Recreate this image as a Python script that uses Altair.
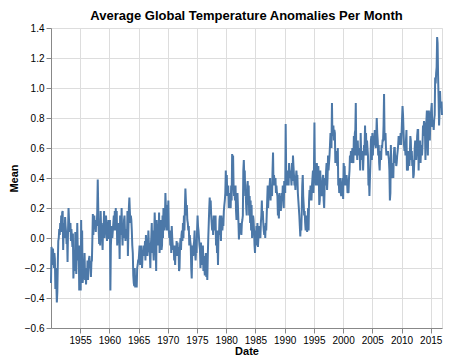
import altair as alt
import pandas as pd

title_text = "Average Global Temperature Anomalies Per Month"
start_year = 1950
end_year = 2016

temps_1950s = [
    -0.30, -0.06, -0.08, -0.18, -0.07, -0.12, -0.20, -0.10, -0.14, -0.34, -0.20, -0.30,
    -0.43, -0.36, -0.18, -0.02, 0.00, 0.06, 0.02, 0.10, 0.05, 0.15, 0.04, 0.17,
    0.18, -0.08, 0.05, 0.10, 0.00, 0.14, 0.08, 0.04, -0.04, 0.02, -0.16, 0.05,
    0.20, 0.12, 0.08, 0.04, 0.10, -0.02, 0.06, 0.00, -0.06, 0.03, -0.27, -0.18,
    -0.10, -0.22, 0.04, -0.14, -0.24, -0.10, 0.10, -0.08, -0.15, -0.05, -0.35, -0.20,
    -0.05, -0.35, 0.12, -0.20, 0.05, -0.30, -0.26, -0.18, -0.22, -0.10, -0.28, -0.22,
    -0.31, -0.20, -0.28, -0.15, -0.28, -0.20, -0.14, -0.12, -0.20, -0.18, -0.26, -0.16,
    -0.15, 0.00, 0.16, 0.02, 0.10, 0.15, 0.06, 0.10, 0.04, 0.12, 0.08, 0.18,
    0.39, 0.20, 0.05, -0.04, 0.08, -0.05, 0.18, 0.06, 0.10, 0.00, -0.08, 0.08,
    0.05, 0.18, 0.00, 0.06, 0.04, 0.15, 0.08, -0.02, 0.02, 0.05, 0.12, 0.00,
]
temps_1960s = [
    0.00, 0.12, -0.35, -0.05, 0.02, 0.08, 0.00, 0.05, 0.10, 0.15, 0.05, 0.18,
    0.05, 0.20, 0.05, 0.18, -0.05, 0.05, 0.10, 0.00, 0.02, -0.14, 0.15, 0.05,
    0.02, 0.20, 0.05, -0.05, 0.10, 0.00, 0.12, 0.15, 0.04, -0.02, 0.06, 0.00,
    0.00, 0.18, -0.12, 0.05, 0.20, 0.27, 0.18, 0.10, 0.15, 0.12, 0.05, -0.05,
    -0.10, -0.25, -0.30, -0.32, -0.20, -0.33, -0.25, -0.30, -0.33, -0.20, -0.18, -0.15,
    -0.15, -0.10, -0.05, -0.18, -0.08, -0.12, -0.05, -0.20, -0.12, -0.08, -0.10, -0.05,
    -0.12, -0.02, -0.15, 0.02, -0.05, -0.08, -0.12, -0.05, 0.05, -0.03, -0.08, -0.10,
    -0.20, -0.05, 0.00, 0.10, -0.10, 0.05, -0.08, -0.15, 0.02, 0.17, 0.05, -0.05,
    -0.22, 0.12, 0.05, -0.05, 0.05, -0.02, 0.17, -0.10, 0.00, 0.12, 0.05, -0.08,
    -0.05, 0.15, 0.00, 0.20, 0.10, 0.05, 0.12, 0.30, 0.20, 0.10, 0.05, 0.22,
]
temps_1970s = [
    0.15, 0.25, 0.05, 0.00, 0.05, -0.05, 0.02, -0.10, 0.08, 0.00, -0.05, -0.08,
    -0.05, -0.15, -0.08, -0.18, -0.05, -0.10, -0.02, -0.12, -0.03, -0.10, -0.06, -0.22,
    -0.20, -0.05, 0.00, -0.08, 0.02, 0.05, -0.02, 0.10, 0.00, 0.15, 0.05, 0.20,
    0.33, 0.25, 0.15, 0.22, 0.12, 0.10, 0.05, 0.08, -0.05, 0.02, -0.02, -0.05,
    -0.20, -0.27, -0.10, -0.05, -0.12, -0.05, -0.02, 0.05, -0.10, -0.15, -0.08, -0.10,
    0.05, 0.15, 0.08, 0.05, 0.00, -0.05, -0.08, -0.20, -0.03, -0.10, -0.18, -0.10,
    -0.05, -0.22, -0.12, -0.20, -0.25, -0.15, -0.10, -0.26, -0.18, -0.28, -0.12, 0.00,
    0.10, 0.20, 0.27, 0.20, 0.25, 0.15, 0.10, 0.05, 0.12, 0.02, 0.15, 0.10,
    0.05, 0.12, 0.15, -0.05, 0.05, -0.10, 0.00, -0.18, 0.05, 0.02, 0.12, 0.15,
    0.05, -0.02, 0.15, 0.10, 0.05, 0.10, 0.08, 0.18, 0.22, 0.25, 0.30, 0.45,
]
temps_1980s = [
    0.30, 0.42, 0.28, 0.32, 0.35, 0.20, 0.25, 0.30, 0.22, 0.20, 0.35, 0.25,
    0.56, 0.45, 0.55, 0.35, 0.28, 0.30, 0.25, 0.35, 0.18, 0.12, 0.20, 0.30,
    0.20, 0.10, -0.01, 0.08, 0.05, 0.10, 0.05, 0.02, 0.10, 0.12, 0.15, 0.45,
    0.52, 0.40, 0.45, 0.28, 0.30, 0.20, 0.15, 0.35, 0.38, 0.22, 0.35, 0.15,
    0.28, 0.10, 0.25, 0.05, 0.22, 0.00, 0.10, 0.15, 0.12, 0.05, -0.05, -0.10,
    0.05, -0.05, 0.08, 0.02, 0.10, -0.06, 0.00, 0.08, 0.05, 0.02, 0.00, 0.10,
    0.15, 0.25, 0.12, 0.18, 0.10, 0.05, 0.02, 0.08, 0.00, 0.10, 0.05, 0.15,
    0.25, 0.35, 0.20, 0.30, 0.28, 0.35, 0.40, 0.25, 0.35, 0.30, 0.28, 0.45,
    0.57, 0.35, 0.42, 0.38, 0.35, 0.40, 0.30, 0.35, 0.30, 0.28, 0.15, 0.20,
    0.13, 0.30, 0.25, 0.28, 0.18, 0.22, 0.30, 0.25, 0.35, 0.30, 0.20, 0.38,
]
temps_1990s = [
    0.35, 0.30, 0.76, 0.45, 0.35, 0.40, 0.45, 0.38, 0.35, 0.50, 0.45, 0.40,
    0.45, 0.40, 0.35, 0.50, 0.38, 0.55, 0.48, 0.42, 0.35, 0.38, 0.32, 0.40,
    0.45, 0.40, 0.42, 0.30, 0.25, 0.20, 0.15, 0.08, 0.01, 0.10, 0.05, 0.18,
    0.35, 0.42, 0.28, 0.22, 0.15, 0.18, 0.10, 0.05, 0.12, 0.15, 0.04, 0.10,
    0.20, 0.05, 0.25, 0.32, 0.25, 0.35, 0.28, 0.25, 0.35, 0.40, 0.45, 0.30,
    0.45, 0.77, 0.45, 0.40, 0.35, 0.45, 0.50, 0.42, 0.35, 0.48, 0.40, 0.22,
    0.25, 0.45, 0.32, 0.30, 0.28, 0.35, 0.40, 0.42, 0.25, 0.20, 0.35, 0.40,
    0.35, 0.45, 0.50, 0.32, 0.40, 0.55, 0.45, 0.50, 0.55, 0.62, 0.70, 0.68,
    0.60, 0.90, 0.68, 0.72, 0.75, 0.65, 0.72, 0.70, 0.50, 0.55, 0.50, 0.58,
    0.48, 0.60, 0.35, 0.38, 0.30, 0.35, 0.40, 0.30, 0.28, 0.35, 0.36, 0.40,
]
temps_2000s = [
    0.26, 0.50, 0.45, 0.48, 0.35, 0.40, 0.35, 0.42, 0.38, 0.30, 0.32, 0.30,
    0.40, 0.45, 0.55, 0.50, 0.58, 0.50, 0.55, 0.60, 0.52, 0.50, 0.68, 0.55,
    0.70, 0.72, 0.90, 0.55, 0.60, 0.52, 0.65, 0.55, 0.60, 0.55, 0.58, 0.45,
    0.70, 0.55, 0.55, 0.52, 0.58, 0.45, 0.55, 0.62, 0.60, 0.75, 0.55, 0.70,
    0.55, 0.65, 0.60, 0.55, 0.35, 0.40, 0.28, 0.40, 0.50, 0.65, 0.68, 0.52,
    0.70, 0.55, 0.68, 0.62, 0.65, 0.72, 0.62, 0.60, 0.68, 0.80, 0.70, 0.65,
    0.55, 0.62, 0.50, 0.45, 0.55, 0.58, 0.52, 0.62, 0.60, 0.65, 0.65, 0.75,
    0.96, 0.68, 0.65, 0.70, 0.60, 0.55, 0.58, 0.55, 0.58, 0.55, 0.52, 0.45,
    0.25, 0.30, 0.62, 0.45, 0.42, 0.40, 0.50, 0.40, 0.55, 0.60, 0.60, 0.50,
    0.55, 0.48, 0.50, 0.55, 0.58, 0.62, 0.68, 0.65, 0.65, 0.62, 0.70, 0.62,
]
temps_2010s = [
    0.70, 0.80, 0.88, 0.82, 0.72, 0.62, 0.58, 0.62, 0.55, 0.65, 0.72, 0.45,
    0.46, 0.45, 0.58, 0.55, 0.48, 0.55, 0.68, 0.65, 0.52, 0.58, 0.48, 0.52,
    0.40, 0.42, 0.50, 0.60, 0.65, 0.55, 0.52, 0.58, 0.68, 0.72, 0.72, 0.45,
    0.65, 0.55, 0.65, 0.50, 0.60, 0.62, 0.55, 0.62, 0.75, 0.68, 0.78, 0.68,
    0.72, 0.52, 0.76, 0.78, 0.85, 0.65, 0.55, 0.80, 0.85, 0.78, 0.65, 0.78,
    0.82, 0.86, 0.90, 0.74, 0.78, 0.78, 0.72, 0.79, 0.82, 1.07, 1.03, 1.10,
    1.14, 1.34, 1.30, 1.08, 0.93, 0.75, 0.84, 0.98, 0.87, 0.89, 0.91, 0.82,
]

means = temps_1950s + temps_1960s + temps_1970s + temps_1980s + temps_1990s + temps_2000s + temps_2010s
dates = [f"{y}-{m:02d}-06" for y in range(start_year, end_year + 1) for m in range(1, 13)]
assert len(dates) == len(means), (len(dates), len(means))

df = pd.DataFrame({"Date": dates, "Mean": means})

chart = (
    alt.Chart(df)
    .mark_line(strokeWidth=2)
    .encode(
        x=alt.X("Date:T", title="Date", axis=alt.Axis(titlePadding=0)),
        y=alt.Y("Mean:Q", title="Mean", axis=alt.Axis(titlePadding=5)),
    )
    .properties(
        width=438,
        height=348,
        padding={"top": 2, "left": 0, "right": 0, "bottom": 0},
        autosize=alt.AutoSizeParams(type="fit", contains="padding"),
        title=alt.TitleParams(title_text, offset=0),
    )
    .configure(font="Liberation Sans")
)

chart.save("out.html", embed_options={"renderer": "svg", "actions": False})
